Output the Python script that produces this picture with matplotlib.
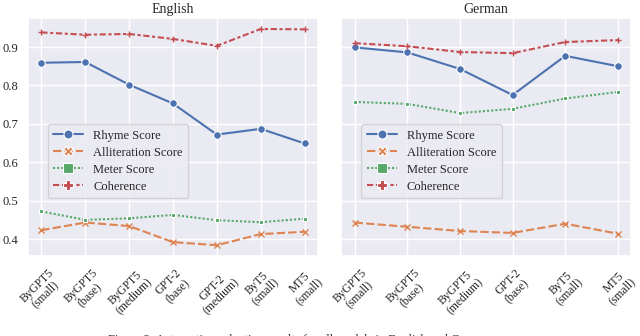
import matplotlib
matplotlib.use("Agg")
import matplotlib.pyplot as plt
import seaborn as sns
from matplotlib.lines import Line2D

sns.set_theme(style="darkgrid")
plt.rcParams['font.family'] = ['Liberation Serif', 'DejaVu Serif']

en_models = ["ByGPT5\n(small)", "ByGPT5\n(base)", "ByGPT5\n(medium)", "GPT-2\n(base)",
             "GPT-2\n(medium)", "ByT5\n(small)", "MT5\n(small)"]
de_models = ["ByGPT5\n(small)", "ByGPT5\n(base)", "ByGPT5\n(medium)", "GPT-2\n(base)",
             "ByT5\n(small)", "MT5\n(small)"]

en_rhyme = [0.859, 0.861, 0.802, 0.753, 0.672, 0.687, 0.649]
en_allit = [0.423, 0.443, 0.434, 0.392, 0.384, 0.413, 0.419]
en_meter = [0.472, 0.450, 0.454, 0.463, 0.449, 0.444, 0.453]
en_coher = [0.938, 0.932, 0.934, 0.921, 0.903, 0.947, 0.946]

de_rhyme = [0.899, 0.886, 0.843, 0.775, 0.877, 0.850]
de_allit = [0.443, 0.432, 0.421, 0.416, 0.440, 0.414]
de_meter = [0.757, 0.752, 0.728, 0.739, 0.766, 0.783]
de_coher = [0.910, 0.902, 0.887, 0.884, 0.913, 0.918]

series_names = ["Rhyme Score", "Alliteration Score", "Meter Score", "Coherence"]
colors = ["#4C72B0", "#DD8452", "#55A868", "#C44E52"]
dashes = [None, (4, 1.5), (1, 1), (3, 1.25, 1.5, 1.25)]
plot_markers = ["o", "x", "s", "+"]
plot_msize = [5.5, 4.5, 3.5, 5]
leg_markers = ["o", "X", "s", "P"]

fig, axes = plt.subplots(1, 2, figsize=(6.4, 3.36), dpi=100, sharey=True)
fig.subplots_adjust(left=0.044, right=0.986, top=0.946, bottom=0.238, wspace=0.082)

panels = [
    (axes[0], "English", en_models, [en_rhyme, en_allit, en_meter, en_coher]),
    (axes[1], "German", de_models, [de_rhyme, de_allit, de_meter, de_coher]),
]

for ax, title, models, data in panels:
    x = list(range(len(models)))
    for vals, c, d, m, ms in zip(data, colors, dashes, plot_markers, plot_msize):
        ln, = ax.plot(x, vals, color=c, lw=1.5, marker=m, markersize=ms,
                      markeredgecolor="white" if m in ("o", "s") else c,
                      markeredgewidth=0.8 if m in ("o", "s") else 1.0)
        if d is not None:
            ln.set_dashes(d)
    ax.set_xticks(x)
    ax.set_xticklabels(models, rotation=45, fontsize=8.5, linespacing=1.0)
    ax.set_title(title, fontsize=10, pad=4)
    ax.tick_params(axis='y', labelsize=9, pad=1)
    ax.tick_params(axis='x', pad=2)
    handles = []
    for name, c, d, m in zip(series_names, colors, dashes, leg_markers):
        h = Line2D([0], [0], color=c, lw=1.5, marker=m, markersize=6.5,
                   markeredgecolor="white", markeredgewidth=0.8, label=name)
        if d is not None:
            h.set_dashes(d)
        handles.append(h)
    ax.legend(handles=handles, loc="upper left", bbox_to_anchor=(0.068, 0.555),
              borderaxespad=0, fontsize=9, handlelength=2.4, labelspacing=0.4,
              borderpad=0.45, handletextpad=0.8, framealpha=0.8)

axes[0].set_yticks([0.4, 0.5, 0.6, 0.7, 0.8, 0.9])

fig.text(0.47, 0.006, "Figure 3: Automatic evaluation results for all models in English and German.",
         ha="center", va="top", fontsize=9, color="#333333")

fig.savefig("out.png", dpi=100)
